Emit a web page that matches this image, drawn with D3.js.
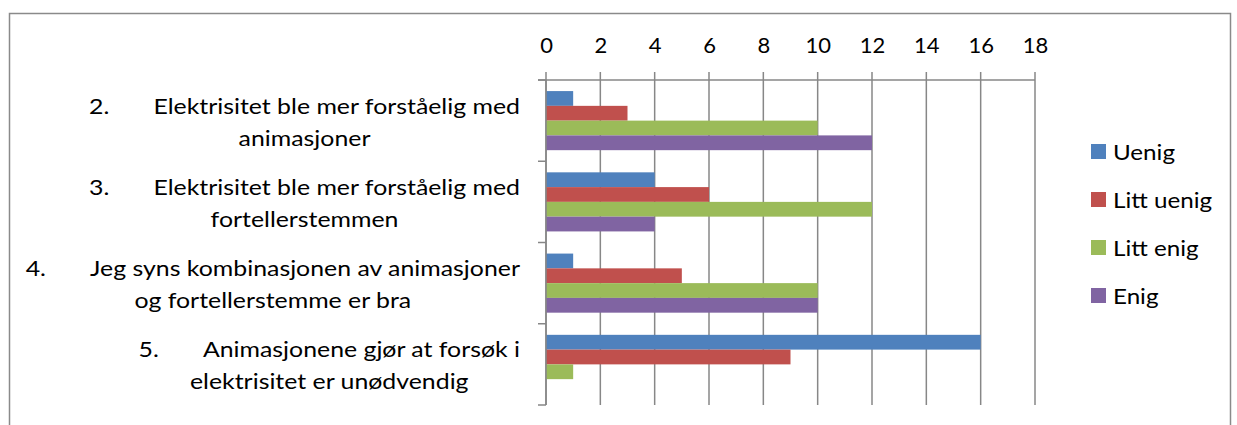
<!DOCTYPE html>
<html>
<head>
<meta charset="utf-8">
<script src="https://cdn.jsdelivr.net/npm/d3@7"></script>
<style>
  body { margin: 0; background: #fff; }
  svg { display: block; font-family: Lato, "Open Sans", sans-serif; }
</style>
</head>
<body>
<svg width="1237" height="425"></svg>
<script>
// data
var questions = ["2.", "3.", "4.", "5."];
var labelLine1 = ["Elektrisitet ble mer forståelig med", "Elektrisitet ble mer forståelig med",
                  "Jeg syns kombinasjonen av animasjoner", "Animasjonene gjør at forsøk i"];
var labelLine2 = ["animasjoner", "fortellerstemmen", "og fortellerstemme er bra", "elektrisitet er unødvendig"];
var series = ["Uenig", "Litt uenig", "Litt enig", "Enig"];
var uenig = [1, 4, 1, 16];
var littUenig = [3, 6, 5, 9];
var littEnig = [10, 12, 10, 1];
var enig = [12, 4, 10, 0];
var xTicks = [0, 2, 4, 6, 8, 10, 12, 14, 16, 18];
var colors = ["#4f81bd", "#c0504d", "#9bbb59", "#8064a2"];

var values = [uenig, littUenig, littEnig, enig];

var svg = d3.select("svg");
var stretch = 1.13; // Lato is a bit narrower than the original font

// outer frame
svg.append("rect")
    .attr("x", 9.5).attr("y", 13.5)
    .attr("width", 1221).attr("height", 430)
    .attr("fill", "none").attr("stroke", "#8a8a8a").attr("stroke-width", 1.5);

var x = d3.scaleLinear().domain([0, 18]).range([546, 1035]);
var y = d3.scaleBand().domain(questions).range([80, 405]);
var ySub = d3.scaleBand().domain(series).range([0, y.bandwidth()]).paddingOuter(0.75);
var color = d3.scaleOrdinal().domain(series).range(colors);

// gridlines
svg.append("g").selectAll("line")
  .data(xTicks)
  .join("line")
    .attr("x1", d => x(d)).attr("x2", d => x(d))
    .attr("y1", 72).attr("y2", 405)
    .attr("stroke", "#878787").attr("stroke-width", 1.5);

// bars
var rows = [];
questions.forEach((q, i) => {
  series.forEach((s, j) => rows.push({q: q, s: s, v: values[j][i]}));
});

svg.append("g").selectAll("rect")
  .data(rows.filter(d => d.v > 0))
  .join("rect")
    .attr("x", x(0))
    .attr("y", d => y(d.q) + ySub(d.s))
    .attr("width", d => x(d.v) - x(0))
    .attr("height", ySub.bandwidth())
    .attr("fill", d => color(d.s));

// top axis
var xAxis = svg.append("g")
    .attr("transform", "translate(0,80)")
    .call(d3.axisTop(x).tickValues(xTicks).tickSize(0).tickPadding(27));
xAxis.select(".domain").remove();
xAxis.selectAll("text")
    .attr("font-family", "Lato, sans-serif")
    .attr("font-size", 22)
    .attr("fill", "#000");

svg.append("line")
    .attr("x1", 538).attr("x2", x(18))
    .attr("y1", 80).attr("y2", 80)
    .attr("stroke", "#878787").attr("stroke-width", 1.5);

// left axis with ticks at group boundaries
var bounds = questions.map(q => y(q)).concat([y.range()[1]]);
svg.append("line")
    .attr("x1", x(0)).attr("x2", x(0))
    .attr("y1", 80).attr("y2", 405)
    .attr("stroke", "#878787").attr("stroke-width", 1.5);
svg.append("g").selectAll("line")
  .data(bounds)
  .join("line")
    .attr("x1", 538).attr("x2", x(0))
    .attr("y1", d => d).attr("y2", d => d)
    .attr("stroke", "#878787").attr("stroke-width", 1.5);

// category labels: each block centred, right edge at 520
var labels = svg.append("g").attr("font-size", 22).attr("fill", "#000");
questions.forEach((q, i) => {
  var cy = y(q) + y.bandwidth() / 2;
  var g = labels.append("g");
  var t1 = g.append("text").attr("y", cy - 7).attr("text-anchor", "middle");
  t1.append("tspan").text(q);
  t1.append("tspan").attr("dx", 39).text(labelLine1[i]);
  var t2 = g.append("text").attr("y", cy + 25).attr("text-anchor", "middle").text(labelLine2[i]);
  var w = Math.max(t1.node().getComputedTextLength() + 39, t2.node().getComputedTextLength());
  var cx = 520 - w * stretch / 2;
  g.attr("transform", "translate(" + cx + ",0) scale(" + stretch + ",1)");
});

// legend
var legend = svg.append("g").selectAll("g")
  .data(series)
  .join("g")
    .attr("transform", (d, i) => "translate(1091," + (151.5 + i * 48) + ")");
legend.append("rect")
    .attr("x", 0).attr("y", -7.5)
    .attr("width", 15).attr("height", 15)
    .attr("fill", d => color(d));
legend.append("text")
    .attr("transform", "translate(22,8.5) scale(1.1,1)")
    .attr("font-size", 22)
    .text(d => d);
</script>
</body>
</html>
